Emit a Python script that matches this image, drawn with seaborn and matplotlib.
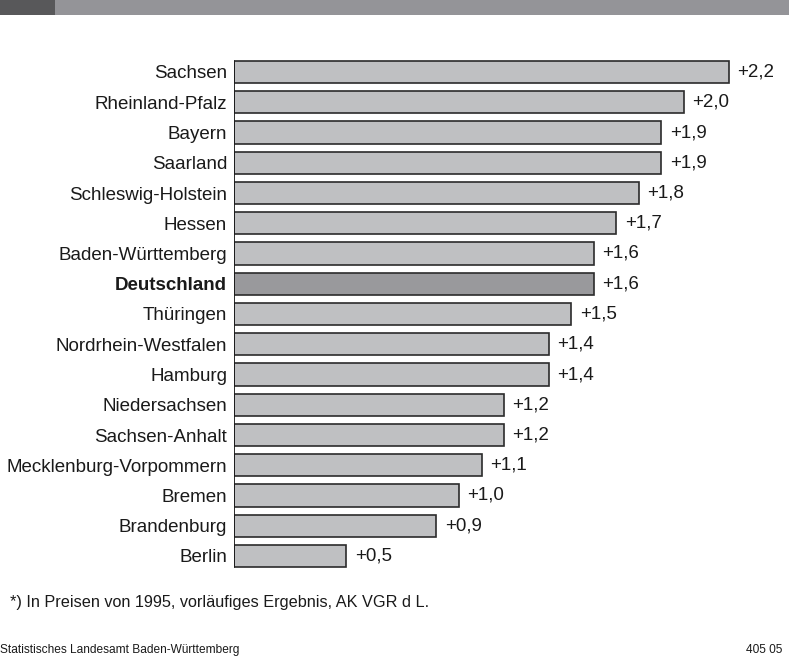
import matplotlib
matplotlib.use("Agg")
import matplotlib.pyplot as plt
import seaborn as sns
import pandas as pd
from matplotlib.patches import Rectangle

# ---------------------- Data ----------------------

laender = [
    "Sachsen", "Rheinland-Pfalz", "Bayern", "Saarland", "Schleswig-Holstein",
    "Hessen", "Baden-Württemberg", "Deutschland", "Thüringen",
    "Nordrhein-Westfalen", "Hamburg", "Niedersachsen", "Sachsen-Anhalt",
    "Mecklenburg-Vorpommern", "Bremen", "Brandenburg", "Berlin",
]
wachstum = [2.2, 2.0, 1.9, 1.9, 1.8, 1.7, 1.6, 1.6, 1.5, 1.4, 1.4, 1.2, 1.2,
            1.1, 1.0, 0.9, 0.5]
value_labels = ["+2,2", "+2,0", "+1,9", "+1,9", "+1,8", "+1,7", "+1,6", "+1,6",
                "+1,5", "+1,4", "+1,4", "+1,2", "+1,2", "+1,1", "+1,0", "+0,9",
                "+0,5"]

df = pd.DataFrame({"land": laender, "wert": wachstum})

sns.set_style("white")
plt.rcParams["font.family"] = ["Liberation Sans", "DejaVu Sans"]

W, H = 789, 664
fig = plt.figure(figsize=(W / 100, H / 100), dpi=100)

# top band
fig.patches.append(Rectangle((0, 1 - 15 / H), 1, 15 / H, transform=fig.transFigure,
                             facecolor="#949498", edgecolor="none"))
fig.patches.append(Rectangle((0, 1 - 15 / H), 55 / W, 15 / H, transform=fig.transFigure,
                             facecolor="#58585a", edgecolor="none"))

# axes: zero line at x=234, 225 px per unit, bars centered 72..556 px
x0 = 234
top = 72 - 0.5 * 30.25
bottom = 556 + 0.5 * 30.25
ax = fig.add_axes([x0 / W, 1 - bottom / H, (W - x0) / W, (bottom - top) / H])

colors = ["#98989c" if l == "Deutschland" else "#bfc0c2" for l in laender]
sns.barplot(data=df, x="wert", y="land", hue="land", palette=colors,
            legend=False, width=0.73, edgecolor="#2b2b2b", linewidth=1.2,
            orient="h", ax=ax)

ax.set_xlim(0, (W - x0) / 225)
ax.set_ylim(16.5, -0.5)
ax.set_xlabel("")
ax.set_ylabel("")
ax.set_xticks([])
for s in ["top", "right", "bottom", "left"]:
    ax.spines[s].set_visible(False)
gap = (0.5 - 0.365) / 17
ax.axvline(0, ymin=gap, ymax=1 - gap, color="#1a1a1a", linewidth=1.3)

ax.tick_params(axis="y", length=0, pad=5, labelsize=13.5, labelcolor="#1a1a1a")
for lab in ax.get_yticklabels():
    if lab.get_text() == "Deutschland":
        lab.set_fontweight("bold")

for i, (v, t) in enumerate(zip(wachstum, value_labels)):
    ax.annotate(t, (v, i), xytext=(6, 0), textcoords="offset points",
                va="center", ha="left", fontsize=13.5, color="#1a1a1a")

fig.text(10 / W, 1 - 603 / H, "*) In Preisen von 1995, vorläufiges Ergebnis, AK VGR d L.",
         fontsize=11.7, color="#1a1a1a", va="center", ha="left")
fig.text(0 / W, 1 - 650 / H, "Statistisches Landesamt Baden-Württemberg",
         fontsize=8.6, color="#1a1a1a", va="center", ha="left")
fig.text(782 / W, 1 - 650 / H, "405 05",
         fontsize=8.6, color="#1a1a1a", va="center", ha="right")

fig.savefig("out.png", dpi=100)
